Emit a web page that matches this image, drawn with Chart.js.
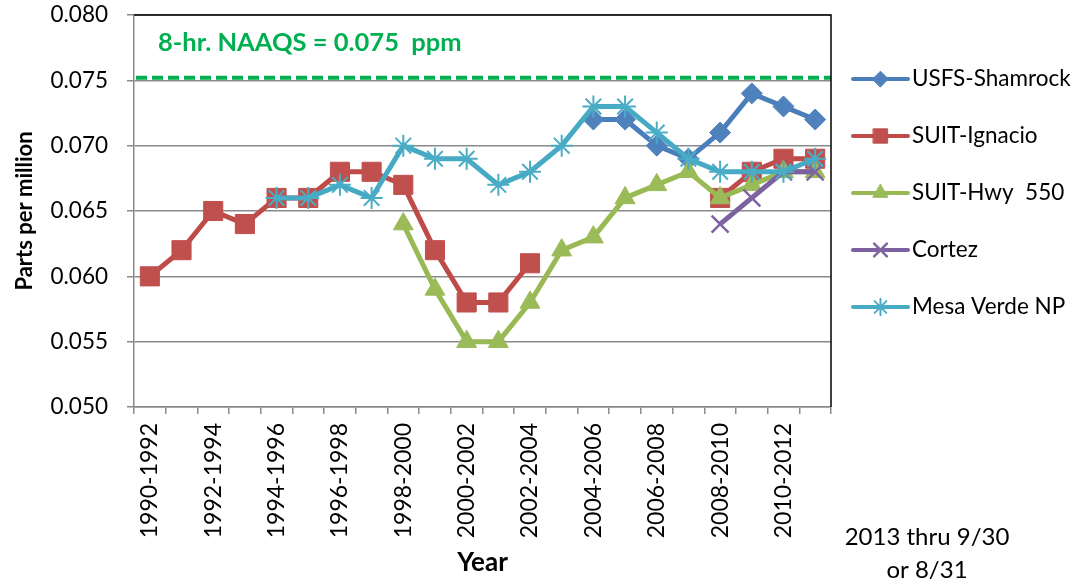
<!DOCTYPE html>
<html>
<head>
<meta charset="utf-8">
<script src="https://cdn.jsdelivr.net/npm/chart.js@4.4.1/dist/chart.umd.min.js"></script>
<style>
  html, body { margin: 0; padding: 0; background: #fff; }
  #wrap { width: 1079px; height: 585px; position: relative; }
</style>
</head>
<body>
<div id="wrap"><canvas id="grafico"></canvas></div>
<script>
const periodos = [
  '1990-1992', '1991-1993', '1992-1994', '1993-1995', '1994-1996', '1995-1997',
  '1996-1998', '1997-1999', '1998-2000', '1999-2001', '2000-2002', '2001-2003',
  '2002-2004', '2003-2005', '2004-2006', '2005-2007', '2006-2008', '2007-2009',
  '2008-2010', '2009-2011', '2010-2012', '2011-2013'
];

const shamrock = [null, null, null, null, null, null, null, null, null, null, null, null,
  null, null, 0.072, 0.072, 0.070, 0.069, 0.071, 0.074, 0.073, 0.072];
const ignacio = [0.060, 0.062, 0.065, 0.064, 0.066, 0.066, 0.068, 0.068, 0.067, 0.062, 0.058, 0.058,
  0.061, null, null, null, null, null, 0.066, 0.068, 0.069, 0.069];
const hwy550 = [null, null, null, null, null, null, null, null, 0.064, 0.059, 0.055, 0.055,
  0.058, 0.062, 0.063, 0.066, 0.067, 0.068, 0.066, 0.067, 0.068, 0.068];
const cortez = [null, null, null, null, null, null, null, null, null, null, null, null,
  null, null, null, null, null, null, 0.064, 0.066, 0.068, 0.068];
const mesaVerde = [null, null, null, null, 0.066, 0.066, 0.067, 0.066, 0.070, 0.069, 0.069, 0.067,
  0.068, 0.070, 0.073, 0.073, 0.071, 0.069, 0.068, 0.068, 0.068, 0.069];

const naaqs = 0.0752;
const yTicks = [0.050, 0.055, 0.060, 0.065, 0.070, 0.075, 0.080];

Chart.defaults.font.family = 'Lato';
Chart.defaults.color = '#000';

// estilo de cada serie (linha + marcador)
const series = [
  { label: 'USFS-Shamrock', data: shamrock, linha: '#4A7EBB', cor: '#4F81BD', estilo: 'rectRot', raio: 10.5, borda: 1 },
  { label: 'SUIT-Ignacio', data: ignacio, linha: '#BE4B48', cor: '#C0504D', estilo: 'rect', raio: 13.5, borda: 1 },
  { label: 'SUIT-Hwy  550', data: hwy550, linha: '#98B954', cor: '#9BBB59', estilo: 'triangle', raio: 11.5, borda: 1 },
  { label: 'Cortez', data: cortez, linha: '#7D60A0', cor: '#8064A2', estilo: 'crossRot', raio: 12, borda: 2.5 },
  { label: 'Mesa Verde NP', data: mesaVerde, linha: '#46AAC5', cor: '#4BACC6', estilo: 'star', raio: 11, borda: 2 }
];

const extras = {
  id: 'extras',
  beforeDatasetsDraw(chart) {
    const { ctx, chartArea: a, scales: { y } } = chart;
    const py = y.getPixelForValue(naaqs);
    ctx.save();
    ctx.strokeStyle = '#00B050';
    ctx.lineWidth = 4;
    ctx.setLineDash([11, 5]);
    ctx.beginPath();
    ctx.moveTo(a.left + 2, py);
    ctx.lineTo(a.right, py);
    ctx.stroke();
    ctx.setLineDash([]);
    ctx.fillStyle = '#00B050';
    ctx.font = 'bold 25.5px Lato';
    ctx.textBaseline = 'middle';
    ctx.fillText('8-hr. NAAQS = 0.075  ppm', a.left + 24, 43);
    ctx.restore();
  },
  afterDraw(chart) {
    const { ctx, chartArea: a } = chart;
    ctx.save();
    // borda preta em cima e à direita
    ctx.strokeStyle = '#000';
    ctx.lineWidth = 1.5;
    ctx.beginPath();
    ctx.moveTo(a.left, a.top);
    ctx.lineTo(a.right, a.top);
    ctx.lineTo(a.right, a.bottom);
    ctx.stroke();

    // legenda
    const x0 = a.right + 22, x1 = a.right + 77;
    series.forEach((s, i) => {
      const yy = 79 + i * 57;
      ctx.strokeStyle = s.linha;
      ctx.lineWidth = 4;
      ctx.lineCap = 'round';
      ctx.beginPath();
      ctx.moveTo(x0, yy);
      ctx.lineTo(x1, yy);
      ctx.stroke();
      ctx.fillStyle = s.cor;
      ctx.strokeStyle = s.cor;
      ctx.lineWidth = s.borda;
      Chart.helpers.drawPoint(ctx, { pointStyle: s.estilo, radius: s.raio * 0.75, borderWidth: s.borda, rotation: 0 }, (x0 + x1) / 2, yy);
      ctx.fillStyle = '#000';
      ctx.font = '22.5px Lato';
      ctx.textBaseline = 'middle';
      ctx.textAlign = 'left';
      ctx.fillText(s.label, x1 + 4, yy);
    });

    // nota
    ctx.fillStyle = '#000';
    ctx.font = '24px Lato';
    ctx.textAlign = 'center';
    ctx.textBaseline = 'middle';
    ctx.fillText('2013 thru 9/30', 927, 537);
    ctx.fillText('or 8/31', 927, 570);
    ctx.restore();
  }
};

new Chart(document.getElementById('grafico'), {
  type: 'line',
  data: {
    labels: periodos,
    datasets: series.map((s, i) => ({
      label: s.label,
      data: s.data,
      borderColor: s.linha,
      borderWidth: 5,
      pointStyle: s.estilo,
      pointRadius: s.raio,
      pointBackgroundColor: s.cor,
      pointBorderColor: s.cor,
      pointBorderWidth: s.borda,
      spanGaps: false,
      order: series.length - i
    }))
  },
  options: {
    responsive: true,
    maintainAspectRatio: false,
    animation: false,
    layout: { padding: { top: 0, right: 248, left: 0, bottom: 0 } },
    plugins: {
      legend: { display: false },
      tooltip: { enabled: false }
    },
    scales: {
      x: {
        offset: true,
        afterFit(scale) { scale.height = 178; },
        grid: { offset: true, drawOnChartArea: false, drawTicks: true, tickLength: 7, color: '#8a8a8a', lineWidth: 1.5 },
        border: { display: true, color: '#8a8a8a', width: 1.5 },
        ticks: {
          autoSkip: false,
          maxRotation: 90,
          minRotation: 90,
          padding: 9,
          font: { size: 23 },
          callback(v, i) { return i % 2 === 0 ? this.getLabelForValue(v) : ''; }
        },
        title: { display: true, text: 'Year', font: { size: 26, weight: 'bold' }, padding: { top: 0, bottom: 7 } }
      },
      y: {
        min: 0.05,
        max: 0.08,
        afterFit(scale) {
          scale.width = 134;
          scale.paddingTop = 15;
          scale.paddingBottom = 0;
        },
        afterBuildTicks(scale) { scale.ticks = yTicks.map(v => ({ value: v })); },
        grid: { color: '#8a8a8a', lineWidth: 1.5, tickLength: 7 },
        border: { display: true, color: '#8a8a8a', width: 1.5 },
        ticks: {
          padding: 19,
          font: { size: 22.5 },
          callback(v) { return v.toFixed(3); }
        },
        title: { display: true, text: 'Parts per million', font: { size: 22, weight: 'bold' }, padding: { top: 12, bottom: 0 } }
      }
    }
  },
  plugins: [extras]
});
</script>
</body>
</html>
